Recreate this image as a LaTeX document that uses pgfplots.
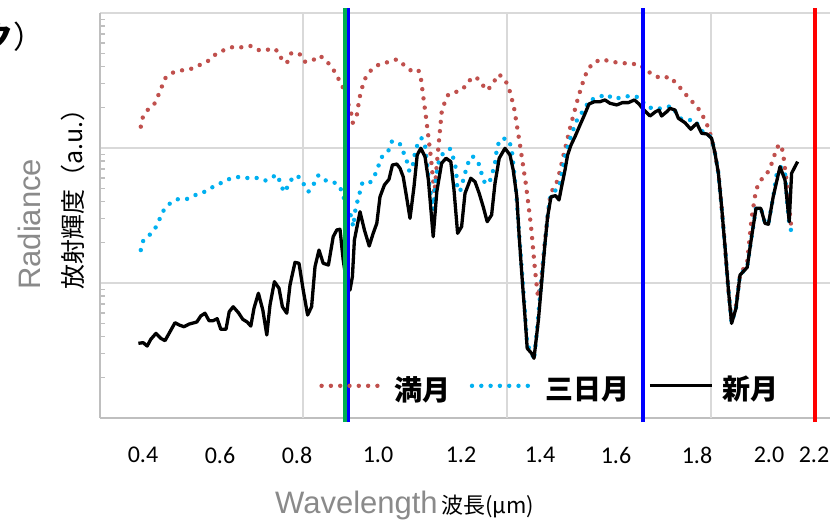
\documentclass[border=0pt]{standalone}
\usepackage{fontspec}
\usepackage{pgfplots}
\pgfplotsset{compat=1.18}
\newfontfamily\arial{Liberation Sans}
\newfontfamily\calibri{Carlito}
\newfontfamily\jp{Noto Sans CJK JP}
\definecolor{cRed}{HTML}{C0504D}
\definecolor{cBlue}{HTML}{00B0F0}
\definecolor{cGreen}{HTML}{00B050}
\definecolor{lBlue}{HTML}{0000FF}
\definecolor{lRed}{HTML}{FF0000}
\definecolor{labgray}{HTML}{8A8A8A}
\definecolor{gridgray}{HTML}{D9D9D9}
\definecolor{axgray}{HTML}{BFBFBF}

% x: wavelength (um), y: log10 radiance (a.u.)
\pgfplotstableread{
x y
0.402 2.158
0.407 2.227
0.418 2.279
0.435 2.321
0.445 2.385
0.454 2.450
0.4625 2.516
0.482 2.558
0.506 2.576
0.528 2.587
0.548 2.613
0.569 2.642
0.588 2.691
0.609 2.724
0.632 2.748
0.654 2.746
0.678 2.756
0.698 2.724
0.717 2.726
0.733 2.739
0.748 2.709
0.756 2.639
0.768 2.635
0.778 2.701
0.798 2.701
0.811 2.639
0.829 2.644
0.850 2.684
0.868 2.639
0.883 2.583
0.894 2.524
0.906 2.459
0.9175 2.356
0.928 2.257
0.932 2.187
0.9425 2.250
0.946 2.319
0.950 2.387
0.956 2.454
0.964 2.521
0.978 2.578
0.998 2.620
1.021 2.637
1.0425 2.657
1.060 2.615
1.079 2.570
1.096 2.578
1.1025 2.509
1.115 2.227
1.127 1.936
1.136 1.664
1.143 1.911
1.154 2.261
1.161 2.331
1.171 2.398
1.190 2.415
1.207 2.435
1.221 2.496
1.240 2.528
1.254 2.474
1.269 2.427
1.283 2.484
1.2975 2.546
1.313 2.504
1.323 2.437
1.335 2.301
1.350 2.022
1.365 1.726
1.3775 1.422
1.3875 1.096
1.395 0.896
1.4025 1.007
1.4125 1.319
1.425 1.637
1.433 1.704
1.444 1.758
1.460 1.963
1.477 2.170
1.496 2.380
1.510 2.513
1.519 2.578
1.534 2.635
1.557 2.657
1.579 2.637
1.6025 2.632
1.625 2.622
1.647 2.622
1.665 2.578
1.683 2.541
1.7025 2.516
1.725 2.528
1.7375 2.487
1.754 2.435
1.771 2.373
1.786 2.326
1.802 2.269
1.821 2.150
1.829 2.072
1.8375 1.961
1.846 1.813
1.854 1.565
1.8625 1.269
1.871 0.948
1.879 0.719
1.890 0.837
1.900 1.059
1.918 1.156
1.929 1.479
1.940 1.689
1.950 1.756
1.967 1.807
1.977 1.867
1.985 1.936
1.992 2.005
2.0025 2.027
2.008 1.956
2.015 1.787
2.027 1.442
2.033 1.398
}\fullmoon

\pgfplotstableread{
x y
0.402 1.244
0.408 1.313
0.423 1.353
0.4375 1.402
0.448 1.467
0.458 1.533
0.473 1.585
0.493 1.620
0.517 1.622
0.539 1.652
0.560 1.674
0.582 1.711
0.6025 1.741
0.623 1.770
0.644 1.785
0.668 1.778
0.692 1.778
0.7125 1.758
0.731 1.785
0.743 1.802
0.752 1.733
0.760 1.672
0.7725 1.728
0.7825 1.790
0.799 1.785
0.811 1.724
0.821 1.676
0.835 1.736
0.846 1.798
0.8625 1.761
0.884 1.748
0.900 1.713
0.907 1.647
0.9175 1.578
0.928 1.491
0.933 1.417
0.939 1.553
0.946 1.632
0.956 1.743
0.975 1.743
0.9875 1.802
0.996 1.867
1.004 1.931
1.021 1.980
1.030 2.050
1.049 2.035
1.058 1.973
1.067 1.904
1.073 1.832
1.082 1.842
1.083 1.911
1.090 1.985
1.096 2.052
1.104 2.072
1.1125 2.022
1.123 1.739
1.133 1.541
1.140 1.787
1.146 1.887
1.152 1.936
1.161 1.973
1.175 1.993
1.185 1.911
1.190 1.842
1.193 1.713
1.200 1.676
1.207 1.750
1.213 1.817
1.220 1.887
1.231 1.941
1.246 1.891
1.2525 1.824
1.261 1.750
1.272 1.733
1.280 1.802
1.2875 1.887
1.293 2.015
1.304 2.072
1.321 2.064
1.329 1.998
1.340 1.689
1.3475 1.378
1.355 1.081
1.3625 0.785
1.368 0.541
1.379 0.489
1.385 0.430
1.3925 0.652
1.4025 0.985
1.4125 1.296
1.420 1.526
1.4275 1.659
1.440 1.689
1.4475 1.704
1.455 1.822
1.465 1.970
1.4775 2.089
1.490 2.193
1.500 2.244
1.5125 2.291
1.523 2.356
1.542 2.368
1.564 2.398
1.586 2.363
1.607 2.378
1.629 2.387
1.650 2.373
1.6625 2.319
1.683 2.289
1.704 2.294
1.729 2.311
1.750 2.220
1.767 2.207
1.7875 2.207
1.804 2.126
1.817 2.111
1.829 2.074
1.8375 1.963
1.846 1.815
1.854 1.563
1.8625 1.267
1.871 0.948
1.879 0.704
1.890 0.815
1.900 1.059
1.918 1.119
1.929 1.341
1.940 1.556
1.952 1.556
1.9625 1.444
1.971 1.437
1.983 1.637
1.992 1.813
2.0025 1.861
2.0125 1.813
2.018 1.590
2.023 1.442
2.029 1.373
}\crescent

\pgfplotstableread{
x y
0.396 0.553
0.408 0.558
0.418 0.533
0.427 0.583
0.440 0.627
0.452 0.590
0.4625 0.573
0.475 0.639
0.4875 0.706
0.498 0.689
0.510 0.676
0.523 0.696
0.542 0.711
0.552 0.756
0.5625 0.776
0.5725 0.721
0.583 0.721
0.593 0.736
0.602 0.657
0.615 0.657
0.623 0.787
0.633 0.824
0.646 0.780
0.657 0.731
0.668 0.711
0.677 0.681
0.685 0.813
0.696 0.924
0.707 0.800
0.717 0.615
0.725 0.837
0.736 1.010
0.7475 0.961
0.756 0.824
0.767 0.776
0.775 0.985
0.7875 1.153
0.7975 1.146
0.808 0.948
0.819 0.763
0.829 0.824
0.8375 1.121
0.8475 1.244
0.858 1.146
0.871 1.133
0.883 1.343
0.892 1.393
0.900 1.398
0.908 1.170
0.9175 0.985
0.925 0.948
0.931 1.047
0.936 1.319
0.950 1.528
0.961 1.393
0.973 1.274
0.983 1.368
0.992 1.442
1.000 1.639
1.011 1.726
1.0225 1.768
1.031 1.874
1.042 1.881
1.050 1.850
1.058 1.787
1.067 1.627
1.075 1.479
1.085 1.713
1.093 1.948
1.102 1.998
1.1125 1.936
1.121 1.763
1.133 1.343
1.142 1.676
1.154 1.887
1.165 1.924
1.177 1.899
1.185 1.689
1.194 1.368
1.204 1.417
1.2125 1.664
1.227 1.776
1.2375 1.750
1.248 1.664
1.258 1.565
1.268 1.454
1.279 1.504
1.2875 1.739
1.298 1.924
1.3125 1.998
1.325 1.948
1.333 1.837
1.342 1.639
1.348 1.343
1.355 1.047
1.3625 0.750
1.368 0.516
1.379 0.479
1.385 0.442
1.396 0.726
1.404 1.000
1.4125 1.296
1.419 1.491
1.4275 1.639
1.439 1.647
1.4475 1.615
1.454 1.713
1.4625 1.837
1.469 1.948
1.4775 2.022
1.4875 2.084
1.500 2.170
1.511 2.244
1.5225 2.326
1.536 2.343
1.550 2.343
1.5625 2.356
1.575 2.331
1.592 2.319
1.606 2.336
1.621 2.336
1.636 2.356
1.6475 2.326
1.658 2.287
1.675 2.237
1.689 2.269
1.6975 2.281
1.704 2.237
1.717 2.269
1.725 2.294
1.7375 2.281
1.746 2.220
1.7625 2.187
1.777 2.139
1.792 2.183
1.804 2.109
1.817 2.104
1.829 2.072
1.8375 1.961
1.846 1.813
1.854 1.565
1.8625 1.269
1.871 0.948
1.879 0.701
1.890 0.813
1.900 1.059
1.918 1.116
1.929 1.343
1.940 1.553
1.952 1.553
1.9625 1.442
1.971 1.435
1.983 1.639
2.000 1.861
2.0125 1.763
2.023 1.454
2.029 1.813
2.044 1.899
}\newmoon

\begin{document}
\begin{tikzpicture}[x=1pt,y=1pt]
\useasboundingbox (0,0) rectangle (830,522);
\begin{axis}[
  at={(100pt,104pt)}, anchor=south west,
  scale only axis, width=730pt, height=405pt,
  xmin=0.3, xmax=2.125, ymin=0, ymax=3,
  clip=false,
  axis x line*=bottom, axis y line*=left,
  axis line style={draw=axgray, line width=1.8pt},
  xtick={0.4075,0.600,0.7925,0.995,1.2025,1.400,1.590,1.7925,1.9725,2.085},
  xticklabels={0.4,0.6,0.8,1.0,1.2,1.4,1.6,1.8,2.0,2.2},
  xticklabel style={font=\calibri\fontsize{24}{28}\selectfont, anchor=center, yshift=-37pt},
  x tick style={draw=none},
  extra x ticks={0.8075,1.3175,1.8275},
  extra x tick labels={},
  extra x tick style={grid=major, major tick length=0pt},
  ytick={0,1,2,3}, yticklabels={},
  ymajorgrids,
  minor ytick={0.301,0.477,0.602,0.699,0.778,0.845,0.903,0.954,
               1.301,1.477,1.602,1.699,1.778,1.845,1.903,1.954,
               2.301,2.477,2.602,2.699,2.778,2.845,2.903,2.954},
  major tick length=0pt, minor tick length=5pt,
  every minor tick/.append style={draw=axgray, line width=1.2pt},
  grid style={draw=gridgray, line width=1.8pt},
  legend columns=3,
  legend style={at={(0.615,0.072)}, anchor=center, draw=none, fill=none,
    font=\jp\bfseries\fontsize{28}{30}\selectfont, inner sep=0pt,
    /tikz/every odd column/.append style={column sep=9pt},
    /tikz/every even column/.append style={column sep=19pt},
    nodes={inner sep=0pt}},
  legend image code/.code={\draw[#1] (0pt,3pt) -- (62pt,3pt);},
  dotline/.style={line width=4.4pt, line cap=round, dash pattern=on 0pt off 9.3pt},
]
\addplot[cRed, dotline] table[x=x,y=y] {\fullmoon};
\addlegendentry{満月}
\addplot[cBlue, dotline] table[x=x,y=y] {\crescent};
\addlegendentry{三日月}
\addplot[black, line width=3.3pt, line join=round] table[x=x,y=y] {\newmoon};
\addlegendentry{新月}
\addplot[forget plot, cGreen, line width=3.4pt] coordinates {(0.912,-0.03) (0.912,3.035)};
\addplot[forget plot, lBlue, line width=3.4pt] coordinates {(0.9205,-0.03) (0.9205,3.035)};
\addplot[forget plot, lBlue, line width=3.2pt] coordinates {(1.6575,-0.03) (1.6575,3.035)};
\addplot[forget plot, lRed, line width=3.2pt] coordinates {(2.0875,-0.03) (2.0875,3.035)};
\end{axis}
\node[anchor=base west, rotate=90, inner sep=0pt, text=labgray, font=\arial\fontsize{31}{36}\selectfont] at (40,232) {Radiance};
\node[anchor=base west, rotate=90, inner sep=0pt, font=\jp\fontsize{25}{28}\selectfont] at (82,232) {放射輝度（a.u.）};
\node[anchor=base west, inner sep=0pt, text=labgray, font=\arial\fontsize{31}{36}\selectfont] at (275,8) {Wavelength};
\node[anchor=base west, inner sep=0pt, font=\jp\fontsize{22}{26}\selectfont] at (441,8) {波長(µm)};
\node[anchor=base west, inner sep=0pt, font=\jp\fontsize{31}{36}\selectfont] at (-18,473) {{\bfseries ク}）};
\end{tikzpicture}
\end{document}
